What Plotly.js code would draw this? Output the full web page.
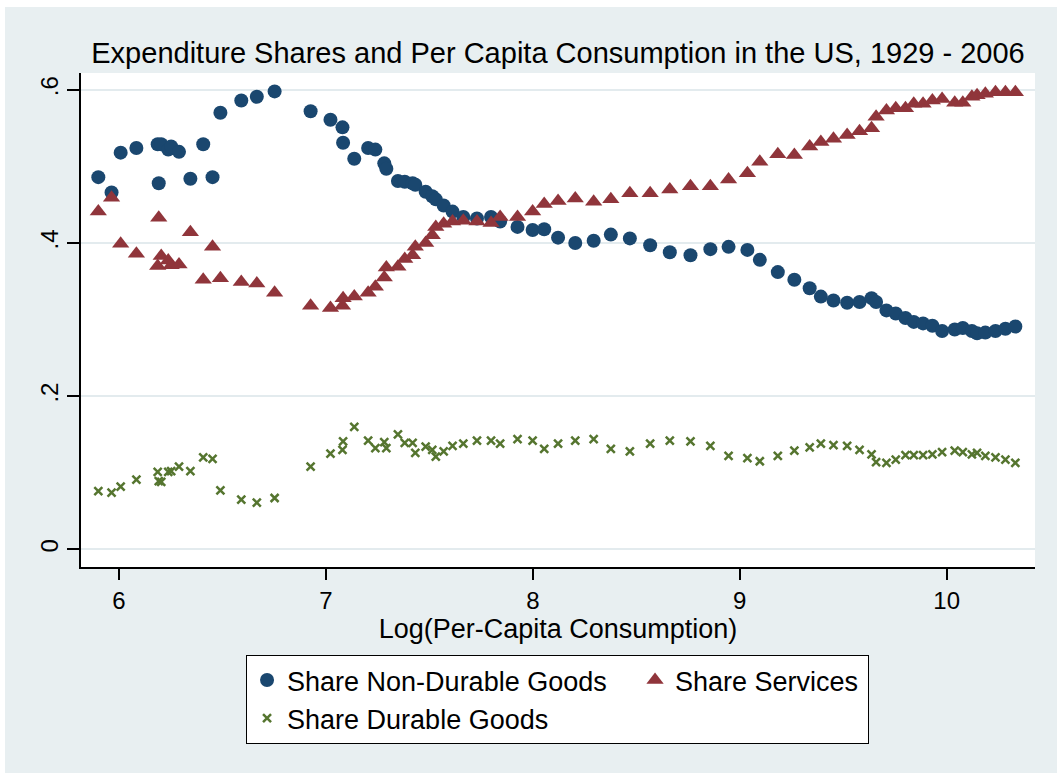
<!DOCTYPE html>
<html>
<head>
<meta charset="utf-8">
<script src="https://cdn.plot.ly/plotly-3.0.1.min.js"></script>
<style>
  html, body { margin: 0; padding: 0; background: #ffffff; }
  #chart { position: absolute; left: 5px; top: 7px; width: 1052px; height: 766px; }
</style>
</head>
<body>
<div id="chart"></div>
<script>
// Log(per-capita consumption), one value per year 1929-2006 (sorted by x)
const logConsumption = [
  5.900, 5.964, 6.008, 6.084, 6.187, 6.192, 6.204, 6.238, 6.252, 6.290,
  6.345, 6.407, 6.452, 6.490, 6.591, 6.666, 6.752, 6.926, 7.022, 7.080,
  7.083, 7.137, 7.204, 7.239, 7.282, 7.292, 7.348, 7.381, 7.419, 7.432,
  7.482, 7.514, 7.531, 7.569, 7.612, 7.664, 7.730, 7.798, 7.842, 7.926,
  7.999, 8.055, 8.122, 8.205, 8.294, 8.377, 8.469, 8.567, 8.662, 8.762,
  8.858, 8.946, 9.037, 9.097, 9.184, 9.264, 9.338, 9.392, 9.453, 9.519,
  9.579, 9.637, 9.659, 9.709, 9.754, 9.801, 9.841, 9.886, 9.931, 9.978,
  10.039, 10.078, 10.122, 10.147, 10.187, 10.236, 10.284, 10.332
];
const shareNonDurable = [
  0.486, 0.466, 0.518, 0.524, 0.529, 0.478, 0.529, 0.522, 0.526, 0.519,
  0.484, 0.529, 0.486, 0.570, 0.586, 0.591, 0.598, 0.572, 0.561, 0.551,
  0.531, 0.510, 0.524, 0.522, 0.504, 0.497, 0.481, 0.480, 0.478, 0.476,
  0.467, 0.461, 0.457, 0.449, 0.441, 0.434, 0.432, 0.434, 0.428, 0.421,
  0.417, 0.418, 0.407, 0.400, 0.403, 0.411, 0.406, 0.397, 0.388, 0.384,
  0.392, 0.395, 0.391, 0.378, 0.362, 0.352, 0.341, 0.330, 0.325, 0.322,
  0.323, 0.328, 0.323, 0.312, 0.308, 0.302, 0.297, 0.295, 0.292, 0.285,
  0.287, 0.289, 0.285, 0.282, 0.283, 0.285, 0.288, 0.291
];
const shareServices = [
  0.441, 0.459, 0.399, 0.386, 0.370, 0.433, 0.383, 0.377, 0.371, 0.372,
  0.414, 0.352, 0.395, 0.354, 0.349, 0.347, 0.335, 0.318, 0.315, 0.318,
  0.328, 0.330, 0.335, 0.343, 0.355, 0.368, 0.369, 0.379, 0.384, 0.395,
  0.400, 0.410, 0.421, 0.425, 0.428, 0.429, 0.428, 0.426, 0.434, 0.434,
  0.441, 0.451, 0.455, 0.458, 0.454, 0.457, 0.465, 0.465, 0.470, 0.474,
  0.474, 0.483, 0.491, 0.506, 0.516, 0.515, 0.526, 0.532, 0.536, 0.541,
  0.546, 0.550, 0.565, 0.573, 0.576, 0.576, 0.582, 0.582, 0.586, 0.588,
  0.583, 0.583, 0.591, 0.593, 0.595, 0.597, 0.597, 0.597
];
const shareDurable = [
  0.076, 0.074, 0.082, 0.091, 0.101, 0.089, 0.088, 0.101, 0.102, 0.108,
  0.102, 0.120, 0.118, 0.077, 0.065, 0.061, 0.067, 0.108, 0.125, 0.130,
  0.141, 0.160, 0.142, 0.132, 0.140, 0.132, 0.150, 0.139, 0.139, 0.126,
  0.134, 0.130, 0.121, 0.128, 0.135, 0.138, 0.142, 0.142, 0.138, 0.144,
  0.142, 0.131, 0.138, 0.142, 0.144, 0.131, 0.128, 0.138, 0.142, 0.141,
  0.135, 0.122, 0.119, 0.115, 0.122, 0.129, 0.133, 0.138, 0.136, 0.135,
  0.130, 0.124, 0.114, 0.113, 0.117, 0.123, 0.123, 0.123, 0.124, 0.127,
  0.129, 0.127, 0.124, 0.126, 0.122, 0.120, 0.117, 0.113
];
const yTickVals = [0, 0.2, 0.4, 0.6];
const yTickText = ['0', '.2', '.4', '.6'];
const xTickVals = [6, 7, 8, 9, 10];

const FONT = '"Liberation Sans", Arial, Helvetica, sans-serif';
const BG = '#e8eff1';

const traces = [
  {
    x: logConsumption, y: shareNonDurable, type: 'scatter', mode: 'markers',
    name: 'Share Non-Durable Goods', legendwidth: 343,
    marker: { symbol: 'circle', size: 14, color: '#1a476f' }
  },
  {
    x: logConsumption, y: shareServices, type: 'scatter', mode: 'markers',
    name: 'Share Services', legendwidth: 188,
    marker: { symbol: 'triangle-up', size: 15, color: '#90353b' }
  },
  {
    x: logConsumption, y: shareDurable, type: 'scatter', mode: 'markers',
    name: 'Share Durable Goods', legendwidth: 300,
    marker: { symbol: 'x-thin', size: 8, color: '#55752f', line: { color: '#55752f', width: 2.5 } }
  }
];

const layout = {
  width: 1052, height: 766,
  paper_bgcolor: BG, plot_bgcolor: '#ffffff',
  font: { family: FONT, color: '#000000', size: 24 },
  margin: { l: 76, r: 22, t: 66, b: 206, autoexpand: false },
  title: {
    text: 'Expenditure Shares and Per Capita Consumption in the US, 1929 - 2006',
    font: { family: FONT, size: 29, color: '#000000' },
    x: 0.5, xref: 'paper', xanchor: 'center',
    y: 0.94, yref: 'container', yanchor: 'middle'
  },
  xaxis: {
    range: [5.8163, 10.427], tickvals: xTickVals, ticktext: xTickVals.map(String),
    showgrid: false, zeroline: false,
    showline: true, linecolor: '#000000', linewidth: 1.5,
    ticks: 'outside', ticklen: 11, tickwidth: 1.5, tickcolor: '#000000',
    tickfont: { family: FONT, size: 24, color: '#000000' },
    title: { text: 'Log(Per-Capita Consumption)', font: { family: FONT, size: 27, color: '#000000' }, standoff: 1 },
    automargin: false
  },
  yaxis: {
    range: [-0.0231, 0.622], tickvals: yTickVals, ticktext: yTickText,
    showgrid: true, gridcolor: '#e3ebee', gridwidth: 2, zeroline: false,
    showline: true, linecolor: '#000000', linewidth: 1.5,
    ticks: 'outside', ticklen: 12, tickwidth: 1.5, tickcolor: '#000000',
    tickangle: -90,
    tickfont: { family: FONT, size: 24, color: '#000000' },
    automargin: false
  },
  showlegend: true,
  legend: {
    orientation: 'h', x: 0.173, xanchor: 'left', xref: 'paper',
    y: -0.178, yanchor: 'top', yref: 'paper',
    bgcolor: '#ffffff', bordercolor: '#000000', borderwidth: 1,
    font: { family: FONT, size: 27, color: '#000000' },
    traceorder: 'normal'
  }
};

Plotly.newPlot('chart', traces, layout, { displayModeBar: false, responsive: false });
</script>
</body>
</html>
